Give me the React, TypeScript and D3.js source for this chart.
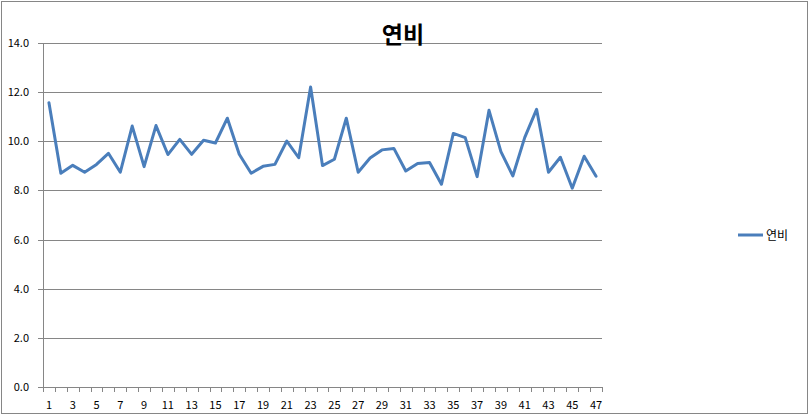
import { useEffect, useRef } from 'react'
import * as d3 from 'd3'

const title = '연비'
const seriesName = '연비'
const categories = d3.range(1, 48).map(String)
const values = [
  11.57, 8.7, 9.02, 8.74, 9.06, 9.51, 8.74, 10.62, 8.97, 10.64,
  9.46, 10.08, 9.47, 10.04, 9.93, 10.94, 9.47, 8.7, 8.98, 9.06,
  10.01, 9.33, 12.21, 9.01, 9.27, 10.94, 8.74, 9.32, 9.65, 9.71,
  8.79, 9.1, 9.14, 8.25, 10.32, 10.15, 8.56, 11.26, 9.58, 8.59,
  10.15, 11.3, 8.74, 9.35, 8.09, 9.39, 8.58
]
const yTicks = [0, 2, 4, 6, 8, 10, 12, 14]

const width = 809
const height = 416
const font = '"Noto Sans CJK KR", "DejaVu Sans", sans-serif'

export default function App() {
  const svgRef = useRef<SVGSVGElement>(null)

  useEffect(() => {
    if (!svgRef.current) return
    const svg = d3.select(svgRef.current)
    svg.selectAll('*').remove()

    const margin = { top: 43, right: 207, bottom: 29, left: 43 }

    const x = d3.scaleBand<string>()
      .domain(categories)
      .range([margin.left, width - margin.right])

    const y = d3.scaleLinear()
      .domain([0, 14])
      .range([height - margin.bottom, margin.top])

    // Chart frame
    svg.append('rect')
      .attr('x', 1.5)
      .attr('y', 1.5)
      .attr('width', 806)
      .attr('height', 412)
      .style('fill', '#fff')
      .style('stroke', '#868686')
      .style('stroke-width', '1px')

    // Gridlines with little stubs past the axis
    yTicks.forEach(t => {
      svg.append('line')
        .attr('x1', margin.left - 5)
        .attr('x2', width - margin.right)
        .attr('y1', Math.round(y(t)) + 0.5)
        .attr('y2', Math.round(y(t)) + 0.5)
        .style('stroke', '#868686')
        .style('stroke-width', '1px')

      svg.append('text')
        .attr('x', 29)
        .attr('y', y(t) + 4)
        .attr('text-anchor', 'end')
        .style('font-family', font)
        .style('font-size', '11px')
        .style('fill', '#000')
        .text(t.toFixed(1))
    })

    // Y axis
    svg.append('line')
      .attr('x1', margin.left + 0.5)
      .attr('x2', margin.left + 0.5)
      .attr('y1', y(14))
      .attr('y2', y(0))
      .style('stroke', '#868686')
      .style('stroke-width', '1px')

    // Category tick marks
    const bounds = categories.map(c => x(c) as number).concat([width - margin.right])
    bounds.forEach(b => {
      svg.append('line')
        .attr('x1', Math.round(b) + 0.5)
        .attr('x2', Math.round(b) + 0.5)
        .attr('y1', y(0))
        .attr('y2', y(0) + 5)
        .style('stroke', '#868686')
        .style('stroke-width', '1px')
    })

    // Category labels (every other)
    categories.forEach((c, i) => {
      if (i % 2 !== 0) return
      svg.append('text')
        .attr('x', (x(c) as number) + x.bandwidth() / 2)
        .attr('y', y(0) + 22)
        .attr('text-anchor', 'middle')
        .style('font-family', font)
        .style('font-size', '11px')
        .style('fill', '#000')
        .text(c)
    })

    // Series line
    const line = d3.line<number>()
      .x((_, i) => (x(categories[i]) as number) + x.bandwidth() / 2)
      .y(d => y(d))

    svg.append('path')
      .datum(values)
      .attr('d', line)
      .style('fill', 'none')
      .style('stroke', '#4a7ebb')
      .style('stroke-width', '3px')
      .style('stroke-linejoin', 'round')
      .style('stroke-linecap', 'round')

    // Title
    svg.append('text')
      .attr('x', 403)
      .attr('y', 43)
      .attr('text-anchor', 'middle')
      .style('font-family', font)
      .style('font-size', '23px')
      .style('font-weight', 'bold')
      .style('fill', '#000')
      .text(title)

    // Legend
    svg.append('line')
      .attr('x1', 738)
      .attr('x2', 763)
      .attr('y1', 235)
      .attr('y2', 235)
      .style('stroke', '#4a7ebb')
      .style('stroke-width', '3px')

    svg.append('text')
      .attr('x', 766)
      .attr('y', 240)
      .style('font-family', font)
      .style('font-size', '12px')
      .style('fill', '#000')
      .text(seriesName)
  }, [])

  return (
    <svg
      ref={svgRef}
      width={width}
      height={height}
      style={{ position: 'absolute', left: 0, top: 0, display: 'block' }}
    />
  )
}
